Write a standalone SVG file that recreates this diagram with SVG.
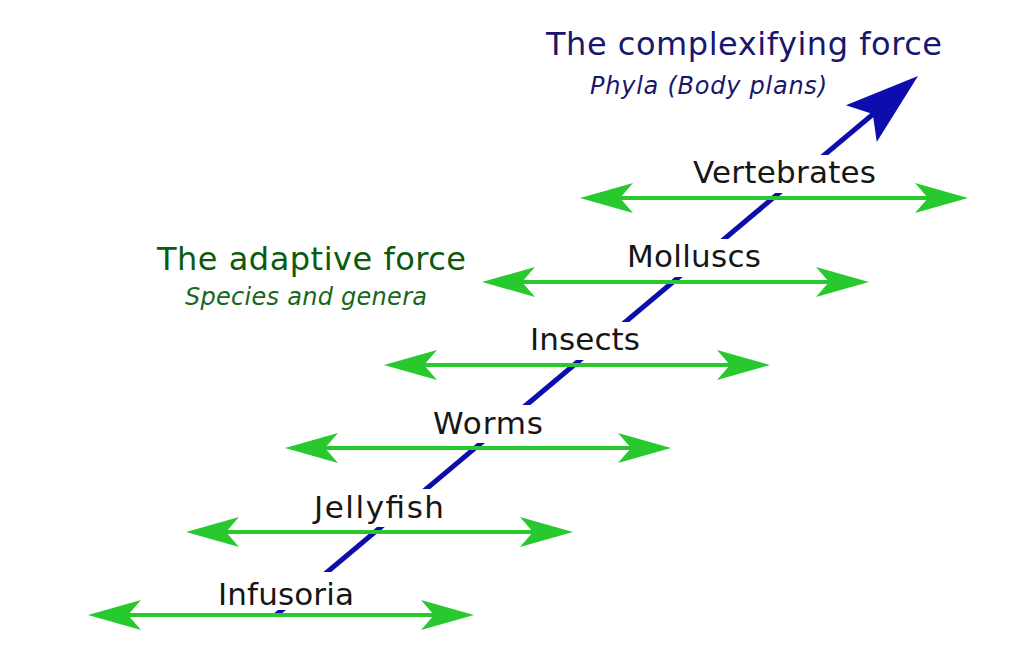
<svg xmlns="http://www.w3.org/2000/svg" xmlns:xlink="http://www.w3.org/1999/xlink" width="1027" height="672" viewBox="0 0 1027 672">
<style>
.g{stroke:#27c92f;stroke-width:4;fill:none}
.gh{fill:#27c92f}
.lbl{font-family:"DejaVu Sans",sans-serif;font-size:31px;fill:#161616}
.bg{fill:#ffffff}
.t1{font-family:"DejaVu Sans",sans-serif;font-size:32px;fill:#17176e}
.t2{font-family:"DejaVu Sans",sans-serif;font-size:24px;font-style:italic;fill:#17176e}
.a1{font-family:"DejaVu Sans",sans-serif;font-size:32px;fill:#0c5a0c}
.a2{font-family:"DejaVu Sans",sans-serif;font-size:24px;font-style:italic;fill:#16681a}
</style>
<defs>
<path id="gl" d="M0,0 L53,-15 L40,0 L53,15 Z"/>
<path id="gr" d="M0,0 L-53,-15 L-40,0 L-53,15 Z"/>
</defs>
<rect width="1027" height="672" fill="#ffffff"/>
<g id="connectors">
<line x1="276" y1="615" x2="878" y2="110" stroke="#0d0daa" stroke-width="5"/>
<path d="M0,0 L-74,-24 L-59,0 L-74,24 Z" fill="#0d0dae" transform="translate(918,76) rotate(-40)"/>
</g>
<g id="title-complexifying">
<text class="t1" x="546" y="55" textLength="396" lengthAdjust="spacing">The complexifying force</text>
<text class="t2" x="590" y="94" textLength="237" lengthAdjust="spacing">Phyla (Body plans)</text>
</g>
<g id="title-adaptive">
<text class="a1" x="157" y="270" textLength="309" lengthAdjust="spacing">The adaptive force</text>
<text class="a2" x="185" y="305" textLength="242" lengthAdjust="spacing">Species and genera</text>
</g>
<g id="infusoria">
<rect class="bg" x="214" y="572" width="144" height="38"/>
<text class="lbl" x="218" y="605" textLength="136" lengthAdjust="spacing">Infusoria</text>
<line class="g" x1="110" y1="615" x2="452" y2="615"/>
<use xlink:href="#gl" class="gh" x="88" y="615"/>
<use xlink:href="#gr" class="gh" x="474" y="615"/>
</g>
<g id="jellyfish">
<rect class="bg" x="310" y="489" width="138" height="38"/>
<text class="lbl" x="314" y="518" textLength="130" lengthAdjust="spacing">Jellyfish</text>
<line class="g" x1="208" y1="532" x2="551" y2="532"/>
<use xlink:href="#gl" class="gh" x="186" y="532"/>
<use xlink:href="#gr" class="gh" x="573" y="532"/>
</g>
<g id="worms">
<rect class="bg" x="429" y="405" width="118" height="38"/>
<text class="lbl" x="433" y="434" textLength="110" lengthAdjust="spacing">Worms</text>
<line class="g" x1="307" y1="448" x2="649" y2="448"/>
<use xlink:href="#gl" class="gh" x="285" y="448"/>
<use xlink:href="#gr" class="gh" x="671" y="448"/>
</g>
<g id="insects">
<rect class="bg" x="526" y="322" width="118" height="38"/>
<text class="lbl" x="530" y="350" textLength="110" lengthAdjust="spacing">Insects</text>
<line class="g" x1="406" y1="365" x2="748" y2="365"/>
<use xlink:href="#gl" class="gh" x="384" y="365"/>
<use xlink:href="#gr" class="gh" x="770" y="365"/>
</g>
<g id="molluscs">
<rect class="bg" x="623" y="239" width="142" height="38"/>
<text class="lbl" x="627" y="267" textLength="134" lengthAdjust="spacing">Molluscs</text>
<line class="g" x1="504" y1="282" x2="847" y2="282"/>
<use xlink:href="#gl" class="gh" x="482" y="282"/>
<use xlink:href="#gr" class="gh" x="869" y="282"/>
</g>
<g id="vertebrates">
<rect class="bg" x="689" y="155" width="191" height="38"/>
<text class="lbl" x="693" y="183" textLength="183" lengthAdjust="spacing">Vertebrates</text>
<line class="g" x1="602" y1="198" x2="946" y2="198"/>
<use xlink:href="#gl" class="gh" x="580" y="198"/>
<use xlink:href="#gr" class="gh" x="968" y="198"/>
</g>
</svg>
